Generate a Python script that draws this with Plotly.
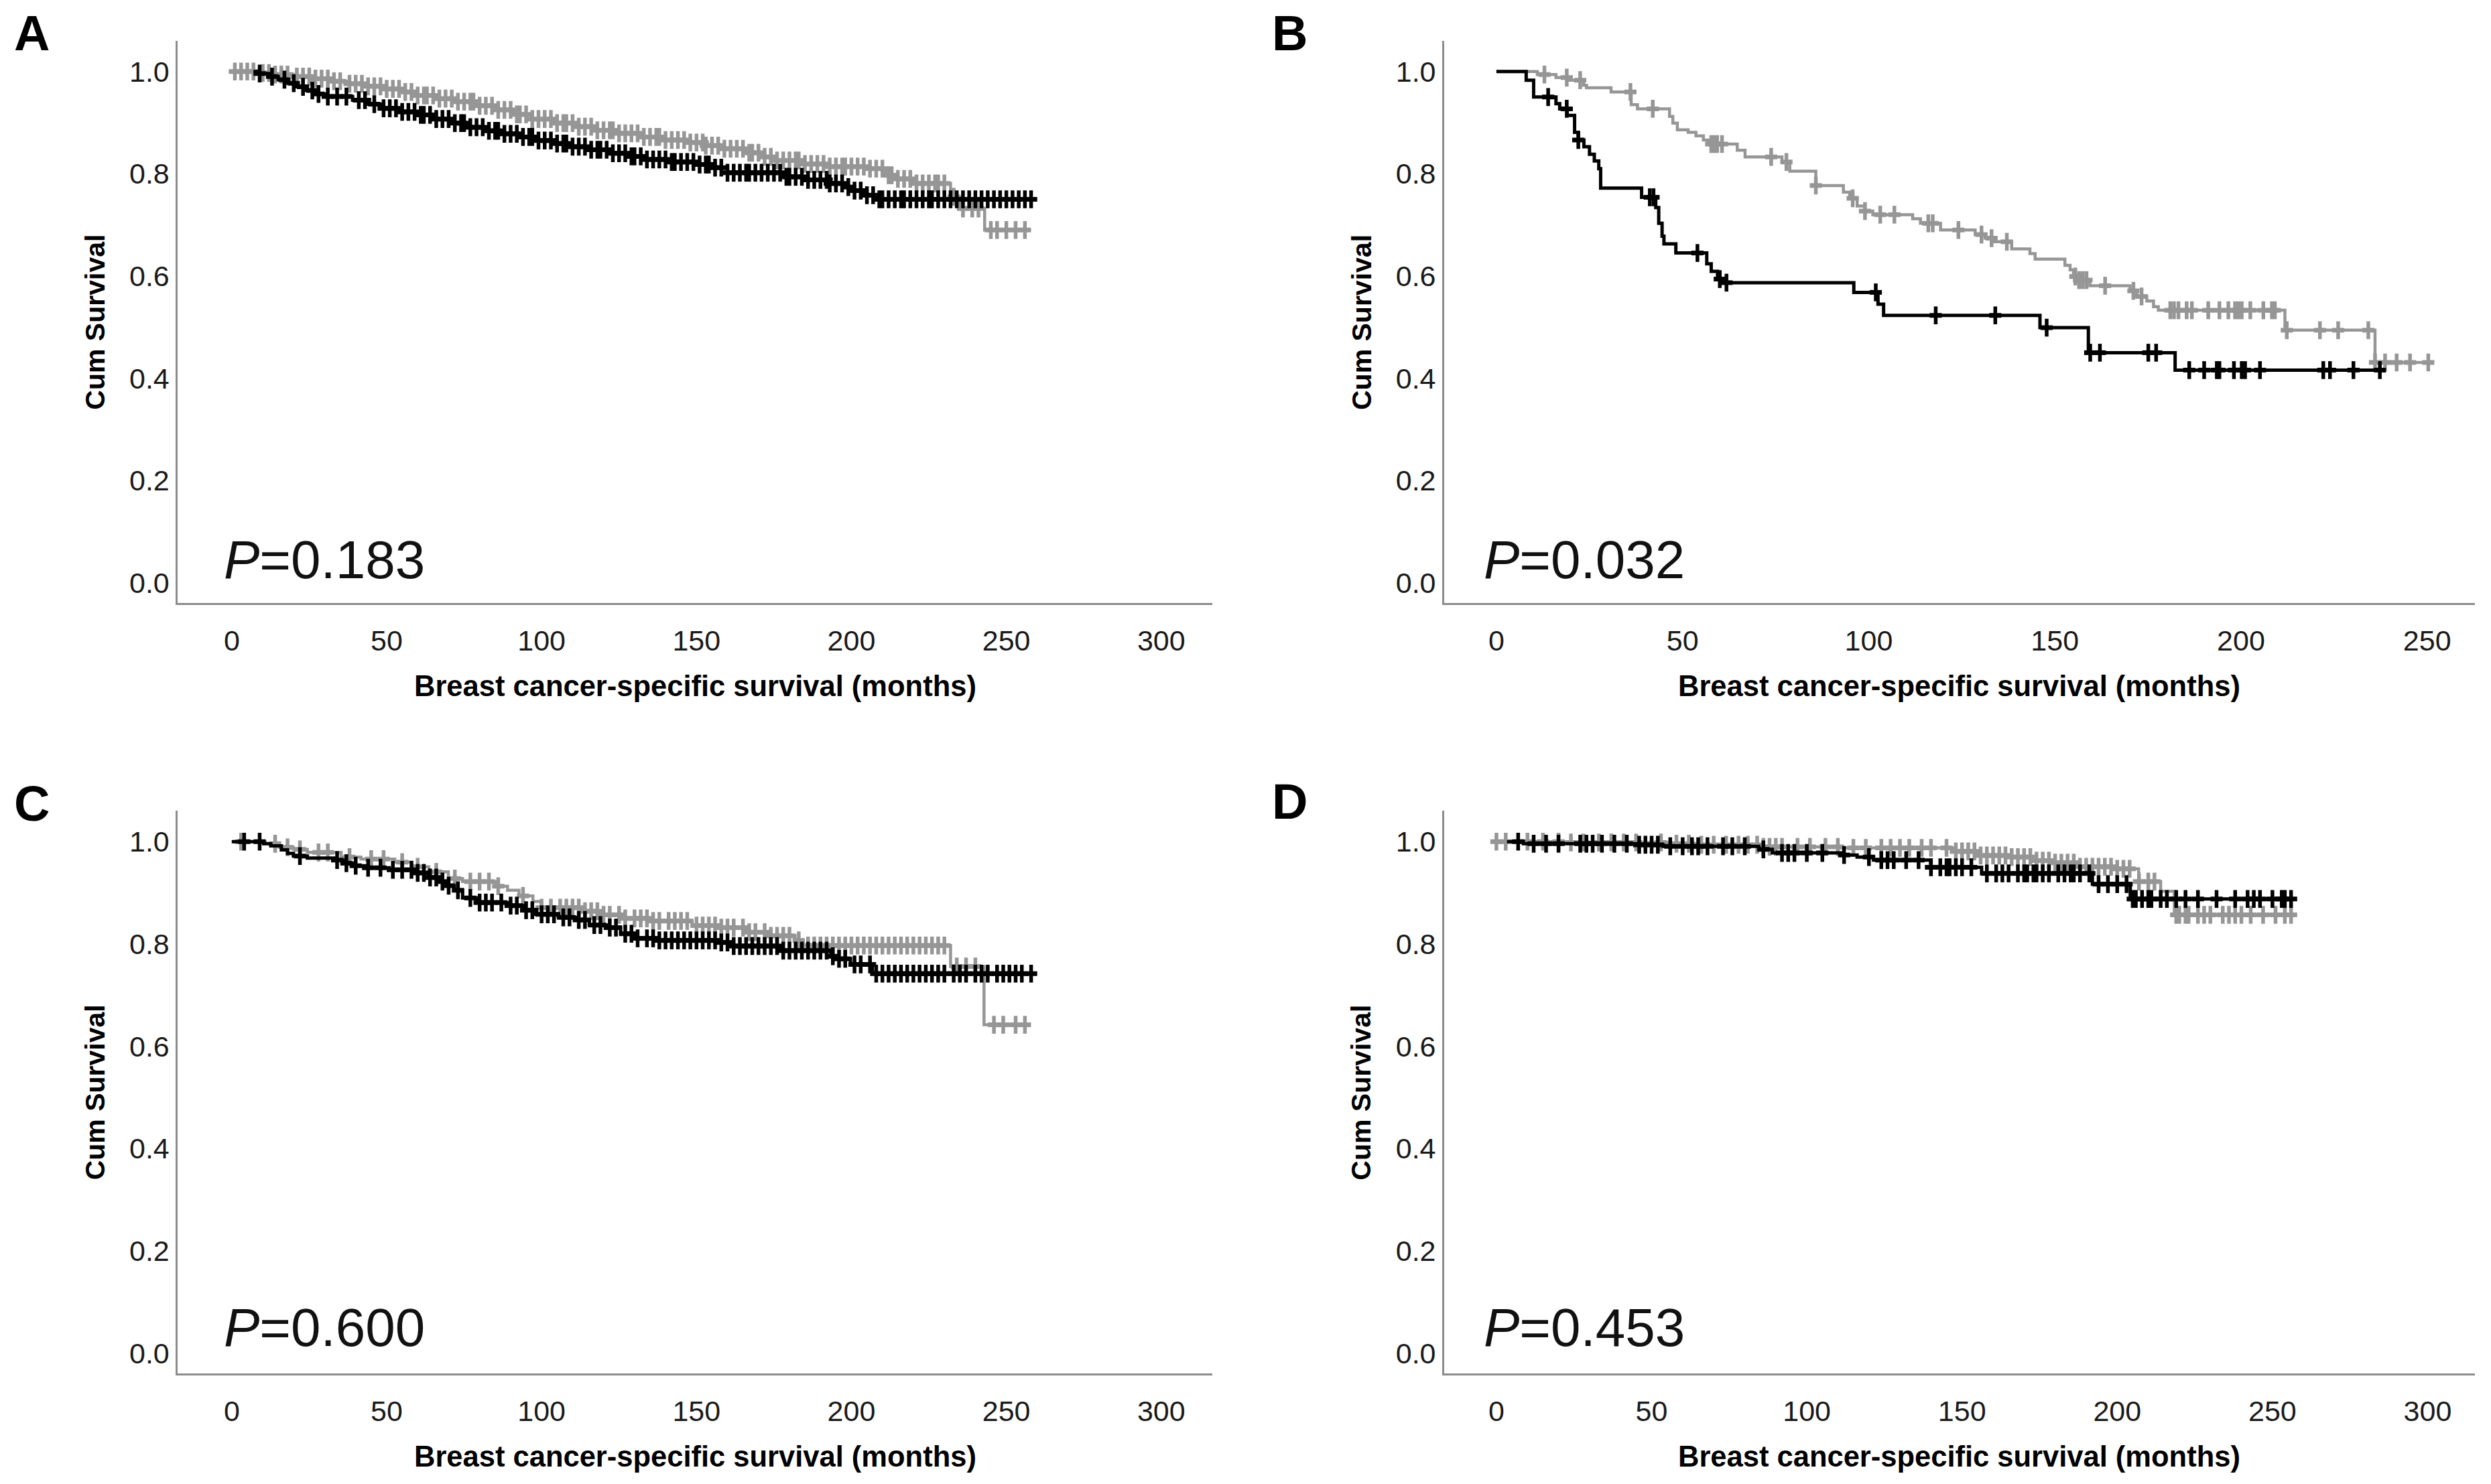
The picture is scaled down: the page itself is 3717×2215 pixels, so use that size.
import numpy as np
import plotly.graph_objects as go

# ---------------- DATA ----------------
# Panel A
A_black_t = [7, 9, 12, 15, 18, 21, 24, 27, 30, 39, 44, 48, 55, 60, 66, 71, 76, 82, 88, 94, 99, 104, 110, 116, 122, 128, 134, 142, 150, 156, 160, 178, 186, 193, 198, 201, 205, 208]
A_black_s = [1.0, 0.996, 0.99, 0.984, 0.977, 0.97, 0.963, 0.956, 0.951, 0.944, 0.936, 0.928, 0.921, 0.915, 0.907, 0.899, 0.891, 0.884, 0.878, 0.872, 0.865, 0.859, 0.853, 0.847, 0.84, 0.834, 0.828, 0.823, 0.818, 0.812, 0.802, 0.794, 0.788, 0.781, 0.774, 0.767, 0.758, 0.75]
A_black_end = 258
A_black_cens = [9, 13, 17, 20, 23, 26, 28, 31, 34, 37, 41, 43, 46, 49, 51, 53, 55, 57, 59, 61, 62, 64, 66, 68, 70, 72, 74, 75, 77, 79, 81, 83, 85, 86, 88, 90, 92, 94, 96, 97, 99, 101, 103, 105, 107, 108, 110, 112, 114, 116, 118, 119, 121, 123, 125, 127, 129, 130, 132, 134, 136, 138, 140, 142, 143, 145, 147, 149, 151, 153, 154, 156, 158, 160, 162, 164, 166, 167, 169, 171, 173, 175, 177, 179, 180, 182, 184, 186, 188, 190, 192, 193, 195, 197, 199, 201, 203, 205, 207, 209, 210, 212, 214, 216, 217, 219, 221, 223, 225, 226, 228, 230, 232, 234, 236, 238, 240, 242, 244, 246, 248, 250, 252, 254, 256, 258]
A_gray_t = [0, 8, 14, 20, 26, 32, 38, 44, 50, 55, 60, 66, 72, 80, 86, 91, 97, 104, 111, 118, 125, 132, 140, 147, 153, 158, 166, 172, 176, 184, 193, 206, 211, 214, 220, 232, 235, 243]
A_gray_s = [1.0, 0.997, 0.994, 0.99, 0.986, 0.981, 0.976, 0.971, 0.966, 0.96, 0.953, 0.947, 0.941, 0.933, 0.925, 0.916, 0.907, 0.899, 0.892, 0.885, 0.879, 0.872, 0.866, 0.861, 0.855, 0.849, 0.841, 0.833, 0.826, 0.819, 0.814, 0.81, 0.797, 0.79, 0.781, 0.755, 0.732, 0.69]
A_gray_end = 256
A_gray_cens = [1, 3, 5, 7, 10, 12, 14, 16, 18, 21, 23, 25, 27, 29, 31, 33, 35, 38, 40, 42, 44, 46, 48, 50, 52, 54, 56, 58, 60, 62, 63, 65, 67, 69, 71, 73, 75, 77, 78, 80, 82, 84, 86, 88, 90, 92, 93, 95, 97, 99, 101, 103, 105, 107, 108, 110, 112, 114, 116, 118, 120, 122, 123, 125, 127, 129, 131, 133, 135, 137, 138, 140, 142, 144, 146, 148, 150, 152, 153, 155, 157, 159, 161, 163, 165, 167, 168, 170, 172, 174, 176, 178, 180, 182, 183, 185, 187, 189, 191, 193, 195, 197, 198, 200, 202, 204, 206, 208, 210, 212, 213, 215, 217, 219, 221, 223, 225, 227, 228, 230, 233, 236, 239, 241, 245, 247, 250, 253, 256]
A_p = "0.183"

# Panel B
B_black_t = [0, 8, 10, 16, 17, 19, 21, 22, 23.5, 25, 26.3, 27.5, 28, 39, 42.8, 43.6, 44.5, 45, 48.2, 56.5, 57.7, 59.4, 60.2, 96, 102.5, 104, 146, 159, 182.3]
B_black_s = [1.0, 0.983, 0.95, 0.937, 0.927, 0.914, 0.881, 0.866, 0.853, 0.838, 0.825, 0.81, 0.772, 0.754, 0.734, 0.703, 0.678, 0.663, 0.645, 0.624, 0.609, 0.594, 0.587, 0.568, 0.545, 0.523, 0.499, 0.45, 0.416]
B_black_end = 237.3
B_black_cens = [13.9, 18.9, 22, 41.2, 42.2, 54, 60, 61.8, 101.9, 118, 134, 147.8, 159.5, 162.1, 175.1, 177.2, 186.1, 190.1, 193.5, 194.2, 198.1, 200.2, 201.1, 205.1, 222.1, 223.9, 230.2, 237.3]
B_gray_t = [0, 11, 16, 19, 23.4, 24.2, 30.8, 36.2, 37.9, 46.5, 47.4, 48.6, 51.5, 53.6, 55.6, 56.9, 64.7, 66.8, 76.7, 78.8, 85.8, 93.2, 94.9, 96.9, 99, 101.1, 111.8, 113.9, 119.3, 128.6, 131.3, 133.5, 138.4, 143.3, 144.7, 152.7, 154.1, 155, 155.9, 159.4, 170.2, 172, 174.7, 176.5, 177.8, 211.8, 236]
B_gray_s = [1.0, 0.994, 0.988, 0.983, 0.973, 0.968, 0.96, 0.935, 0.927, 0.912, 0.899, 0.886, 0.881, 0.874, 0.866, 0.858, 0.846, 0.833, 0.823, 0.805, 0.777, 0.764, 0.752, 0.737, 0.727, 0.72, 0.712, 0.703, 0.69, 0.681, 0.674, 0.667, 0.653, 0.644, 0.633, 0.621, 0.612, 0.599, 0.592, 0.581, 0.571, 0.56, 0.551, 0.54, 0.533, 0.494, 0.431]
B_gray_end = 250.3
B_gray_cens = [12.9, 18.9, 22.5, 36, 42, 57.7, 58.5, 59.3, 60.6, 73.8, 77.9, 85.8, 95.7, 99, 103.1, 106.9, 116, 117.2, 124.1, 130.3, 133, 137.1, 155.5, 156.5, 157.5, 158.5, 163.5, 171.1, 173.3, 181, 182, 183.2, 185.4, 186.8, 191.2, 194.2, 196.6, 198.4, 199.3, 200.2, 202.5, 206, 208.3, 209.1, 212.3, 221.2, 226.1, 234.2, 236, 238.7, 241.8, 245.4, 250.3]
B_p = "0.032"

# Panel C
C_black_t = [0, 10.3, 12.6, 16, 18, 19.9, 24.4, 33.5, 36.3, 39.9, 43.5, 50.8, 58.1, 63.6, 67, 69, 71.8, 74.5, 79, 89.9, 94.5, 98.1, 105.4, 110.9, 115.4, 121.8, 125.5, 131, 136.1, 157.5, 161, 177.3, 193.4, 195.2, 199.7, 206.8]
C_black_s = [1.0, 0.996, 0.992, 0.984, 0.977, 0.972, 0.968, 0.964, 0.958, 0.953, 0.949, 0.945, 0.939, 0.93, 0.922, 0.914, 0.905, 0.89, 0.881, 0.875, 0.866, 0.858, 0.852, 0.847, 0.837, 0.832, 0.82, 0.811, 0.807, 0.803, 0.796, 0.787, 0.776, 0.771, 0.76, 0.742]
C_black_end = 258.8
C_black_cens = [4, 9, 22, 34, 37, 40, 44, 48, 52, 55, 58, 60, 62, 64, 66, 68, 70, 73, 77, 80, 82, 84, 87, 90, 92, 95, 97, 100, 102, 104, 107, 109, 112, 114, 117, 119, 122, 124, 127, 129, 131, 134, 136, 138, 140, 142, 144, 146, 148, 150, 152, 154, 156, 158, 160, 162, 164, 166, 168, 170, 172, 174, 176, 178, 180, 182, 184, 186, 188, 190, 192, 194, 196, 198, 201, 203, 206, 208, 210, 212, 214, 216, 218, 220, 222, 224, 226, 228, 230, 233, 235, 237, 240, 242, 244, 247, 249, 251, 253, 255, 258]
C_gray_t = [0, 10.8, 15.3, 19.9, 24.4, 35.3, 41.7, 52.6, 58.1, 63.6, 69.9, 74.5, 85.4, 89, 92.7, 97.2, 99.8, 112.7, 118.2, 126.2, 135, 148.6, 157.5, 166.5, 173.6, 181.8, 184.4, 232, 242.8]
C_gray_s = [1.0, 0.996, 0.989, 0.985, 0.979, 0.97, 0.966, 0.96, 0.951, 0.941, 0.928, 0.922, 0.913, 0.905, 0.894, 0.883, 0.871, 0.864, 0.857, 0.85, 0.845, 0.836, 0.832, 0.823, 0.816, 0.807, 0.797, 0.756, 0.642]
C_gray_end = 256.2
C_gray_cens = [3, 14, 18, 22, 28, 31, 38, 45, 49, 55, 60, 66, 72, 77, 80, 83, 86, 94, 100, 103, 106, 108, 110, 112, 114, 116, 118, 120, 122, 125, 127, 130, 132, 134, 136, 138, 141, 143, 145, 147, 150, 152, 154, 156, 158, 160, 162, 165, 167, 169, 172, 174, 176, 178, 180, 183, 186, 188, 190, 192, 194, 196, 198, 200, 202, 204, 206, 208, 210, 212, 214, 216, 218, 220, 222, 224, 226, 228, 230, 234, 237, 240, 246, 249, 253, 256]
C_p = "0.600"

# Panel D
D_black_t = [3.4, 8.7, 45, 53.7, 84.5, 88.9, 111, 116.2, 121.5, 139.9, 156.3, 192, 204.2]
D_black_s = [1.0, 0.996, 0.994, 0.991, 0.985, 0.978, 0.974, 0.97, 0.964, 0.95, 0.938, 0.917, 0.888]
D_black_end = 256.3
D_black_cens = [7, 12, 16, 20, 27, 29, 31, 34, 38, 42, 46, 48, 50, 52, 56, 60, 63, 65, 68, 73, 76, 80, 86, 92, 94, 96, 100, 105, 112, 120, 124, 126, 128, 132, 136, 140, 143, 145, 146, 148, 150, 153, 158, 161, 163, 165, 168, 170, 171, 173, 174, 176, 178, 181, 183, 185, 186, 188, 191, 194, 197, 200, 203, 205, 206, 208, 210, 211, 214, 216, 219, 222, 226, 232, 238, 242, 244, 246, 250, 253, 254, 256]
D_gray_t = [0, 24, 56, 66, 85, 111, 147, 155, 165.5, 173.5, 179.6, 187.6, 200, 206.9, 214, 218.4]
D_gray_s = [1.0, 0.9985, 0.996, 0.994, 0.99, 0.988, 0.981, 0.973, 0.97, 0.963, 0.959, 0.951, 0.947, 0.922, 0.903, 0.857]
D_gray_end = 256.3
D_gray_cens = [0, 3, 10, 15, 20, 24, 28, 33, 37, 41, 45, 53, 58, 62, 66, 70, 74, 78, 81, 84, 86, 88, 90, 92, 97, 101, 106, 110, 115, 119, 124, 127, 130, 133, 137, 140, 145, 148, 150, 152, 154, 156, 158, 160, 162, 164, 166, 168, 170, 172, 174, 176, 178, 180, 182, 184, 186, 188, 190, 192, 194, 196, 198, 200, 202, 204, 207, 210, 212, 219, 220, 222, 223, 226, 228, 230, 234, 236, 238, 240, 243, 247, 251, 254, 256]
D_p = "0.453"

panel_letters = ["A", "B", "C", "D"]
y_tick_vals = [0.0, 0.2, 0.4, 0.6, 0.8, 1.0]
y_tick_text = ["0.0", "0.2", "0.4", "0.6", "0.8", "1.0"]
x_ticks_300 = [0, 50, 100, 150, 200, 250, 300]
x_ticks_250 = [0, 50, 100, 150, 200, 250]
y_title = "Cum Survival"
x_title = "Breast cancer-specific survival (months)"

# ---------------- STYLE ----------------
W, H = 3717, 2215
FONT = "Liberation Sans, Arial, Helvetica, sans-serif"
BLACK = "#000000"
GRAY = "#969696"
AXIS = "#8c8c8c"

panels = [
    dict(letter=panel_letters[0], black=(A_black_t, A_black_s, A_black_end, A_black_cens),
         gray=(A_gray_t, A_gray_s, A_gray_end, A_gray_cens), p=A_p,
         xdom=[0.0714, 0.4867], ydom=[0.5935, 0.9725], xr=[-17.4, 316.5], xt=x_ticks_300,
         letter_xy=(0.0050, 0.9775), ptx=-3.0, pty=0.045, ytx=0.0382),
    dict(letter=panel_letters[1], black=(B_black_t, B_black_s, B_black_end, B_black_cens),
         gray=(B_gray_t, B_gray_s, B_gray_end, B_gray_cens), p=B_p,
         xdom=[0.5798, 0.9935], ydom=[0.5935, 0.9725], xr=[-14.0, 262.8], xt=x_ticks_250,
         letter_xy=(0.5101, 0.9775), ptx=-3.8, pty=0.045, ytx=0.5465),
    dict(letter=panel_letters[2], black=(C_black_t, C_black_s, C_black_end, C_black_cens),
         gray=(C_gray_t, C_gray_s, C_gray_end, C_gray_cens), p=C_p,
         xdom=[0.0714, 0.4867], ydom=[0.0744, 0.4535], xr=[-17.4, 316.5], xt=x_ticks_300,
         letter_xy=(0.0050, 0.4585), ptx=-3.0, pty=0.05, ytx=0.0382),
    dict(letter=panel_letters[3], black=(D_black_t, D_black_s, D_black_end, D_black_cens),
         gray=(D_gray_t, D_gray_s, D_gray_end, D_gray_cens), p=D_p,
         xdom=[0.5798, 0.9935], ydom=[0.0744, 0.4535], xr=[-16.8, 315.2], xt=x_ticks_300,
         letter_xy=(0.5101, 0.4600), ptx=-4.5, pty=0.05, ytx=0.5465),
]


def step_xy(t, s, end):
    x = list(t) + [end]
    y = list(s) + [s[-1]]
    return x, y


def cens_y(t, s, c):
    idx = np.searchsorted(np.array(t), np.array(c), side="right") - 1
    idx = np.clip(idx, 0, len(s) - 1)
    return [s[i] for i in idx]


fig = go.Figure()
annotations = []
layout = {}

for i, p in enumerate(panels):
    n = "" if i == 0 else str(i + 1)
    xa, ya = "x" + n, "y" + n
    for key, col, lw in (("gray", GRAY, 4.5), ("black", BLACK, 5)):
        t, s, end, c = p[key]
        x, y = step_xy(t, s, end)
        fig.add_trace(go.Scatter(x=x, y=y, mode="lines", line=dict(color=col, width=lw, shape="hv"),
                                 xaxis=xa, yaxis=ya, showlegend=False, hoverinfo="skip"))
        cy = cens_y(t, s, c)
        # vertical bar of the censor "+"
        fig.add_trace(go.Scatter(x=c, y=cy, mode="markers",
                                 marker=dict(symbol="line-ns", size=19, line=dict(color=col, width=5.5)),
                                 xaxis=xa, yaxis=ya, showlegend=False, hoverinfo="skip"))
        # short horizontal arms of the censor "+"
        fig.add_trace(go.Scatter(x=c, y=cy, mode="markers",
                                 marker=dict(symbol="line-ew", size=13, line=dict(color=col, width=7)),
                                 xaxis=xa, yaxis=ya, showlegend=False, hoverinfo="skip"))
    layout["xaxis" + n] = dict(domain=p["xdom"], anchor=ya, range=p["xr"], tickvals=p["xt"],
                               ticktext=[str(v) for v in p["xt"]],
                               showline=True, linecolor=AXIS, linewidth=3, ticks="", showgrid=False,
                               zeroline=False, ticklabelstandoff=16,
                               tickfont=dict(family=FONT, size=43, color="#1a1a1a"))
    layout["yaxis" + n] = dict(domain=p["ydom"], anchor=xa, range=[-0.04, 1.06], tickvals=y_tick_vals,
                               ticktext=y_tick_text,
                               showline=True, linecolor=AXIS, linewidth=3, ticks="", showgrid=False,
                               zeroline=False, ticklabelstandoff=1,
                               tickfont=dict(family=FONT, size=43, color="#1a1a1a"))
    lx, ly = p["letter_xy"]
    annotations.append(dict(text="<b>%s</b>" % p["letter"], x=lx, y=ly, xref="paper", yref="paper",
                            xanchor="left", yanchor="middle", showarrow=False,
                            font=dict(family=FONT, size=74, color="#000000")))
    annotations.append(dict(text="<i>P</i>=%s" % p["p"], x=p["ptx"], y=p["pty"], xref=xa, yref=ya,
                            xanchor="left", yanchor="middle", showarrow=False,
                            font=dict(family=FONT, size=80, color="#111111")))
    annotations.append(dict(text="<b>%s</b>" % y_title, x=p["ytx"], y=sum(p["ydom"]) / 2,
                            xref="paper", yref="paper", textangle=-90, xanchor="center", yanchor="middle",
                            showarrow=False, font=dict(family=FONT, size=41, color="#000000")))
    annotations.append(dict(text="<b>%s</b>" % x_title, x=sum(p["xdom"]) / 2,
                            y=p["ydom"][0] - 0.0560, xref="paper", yref="paper",
                            xanchor="center", yanchor="middle", showarrow=False,
                            font=dict(family=FONT, size=43.5, color="#000000")))

fig.update_layout(width=W, height=H, margin=dict(l=0, r=0, t=0, b=0), paper_bgcolor="white",
                  plot_bgcolor="white", annotations=annotations, **layout)

fig.write_html("out.html", config={"displayModeBar": False},
               post_script="document.body.style.margin='0';")
